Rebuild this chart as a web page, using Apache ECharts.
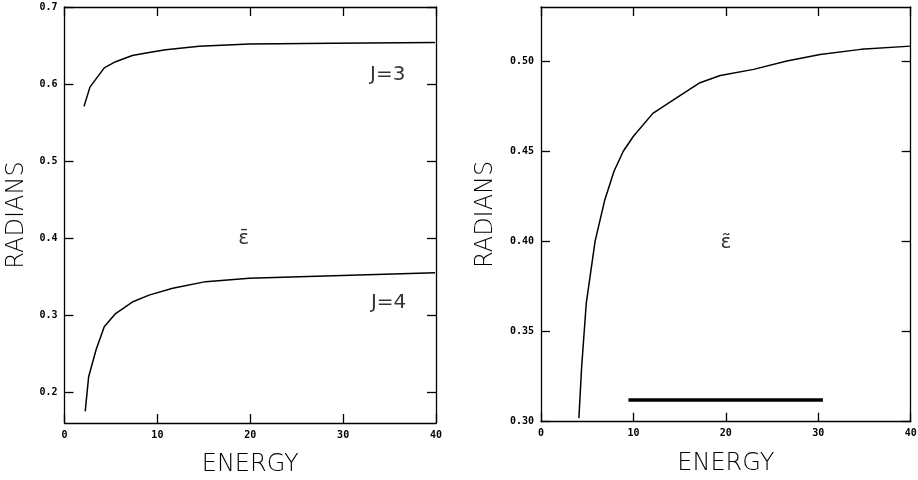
<!DOCTYPE html>
<html>
<head>
<meta charset="utf-8">
<script src="https://cdn.jsdelivr.net/npm/echarts@6/dist/echarts.min.js"></script>
<style>html,body{margin:0;padding:0;background:#fff}#c{width:918px;height:480px}</style>
</head>
<body>
<div id="c"></div>
<script>
// ---- data ----
const energyJ3 = [2.1, 2.74, 4.28, 5.5, 7.3, 9.1, 10.9, 14.5, 19.9, 28.9, 39.9];
const radJ3    = [0.571, 0.596, 0.621, 0.629, 0.637, 0.641, 0.6445, 0.649, 0.652, 0.653, 0.654];
const energyJ4 = [2.23, 2.6, 3.4, 4.28, 5.5, 7.3, 9.1, 11.65, 15.2, 19.9, 25.3, 39.9];
const radJ4    = [0.175, 0.22, 0.255, 0.285, 0.302, 0.317, 0.326, 0.335, 0.3435, 0.348, 0.350, 0.355];
const energyR  = [4.1, 4.4, 4.9, 5.85, 6.9, 7.9, 8.9, 10.0, 12.1, 14.7, 17.2, 19.4, 23.0, 26.6, 30.2, 34.6, 40.0];
const radR     = [0.302, 0.3306, 0.3658, 0.400, 0.423, 0.4389, 0.450, 0.4583, 0.471, 0.4797, 0.488, 0.492, 0.4954, 0.500, 0.5037, 0.5065, 0.5083];
const barEnergy = [9.46, 30.5];
const barRad    = [0.312, 0.312];
const leftYTicks  = [0.2, 0.3, 0.4, 0.5, 0.6, 0.7];
const rightYTicks = [0.30, 0.35, 0.40, 0.45, 0.50];
const xTicks = [0, 10, 20, 30, 40];
const labelTextsLeft = ['J=3', 'J=4', 'ε̄'];
const labelXLeft     = [34.8, 34.9, 19.3];
const labelYLeft     = [0.612, 0.3165, 0.399];
const labelTextsRight = ['ε̃'];
const labelXRight     = [20.0];
const labelYRight     = [0.399];

const zip = (a, b) => a.map((v, i) => [v, b[i]]);

const tickLbl = {fontFamily: 'DejaVu Sans Mono', fontWeight: 'bold', fontSize: 10, color: '#000'};
const nameStyle = {fontFamily: 'DejaVu Sans', fontWeight: 200, fontSize: 24, color: '#000'};
const line = {lineStyle: {color: '#000', width: 1.3}};

function xAx(grid, bottom) {
  return {
    type: 'value', gridIndex: grid, position: bottom ? 'bottom' : 'top',
    min: 0, max: 40, interval: 10,
    axisLine: {show: true, onZero: false, ...line},
    axisTick: {show: true, inside: true, length: 9, customValues: xTicks, ...line},
    axisLabel: bottom ? {show: true, margin: 7, customValues: xTicks, ...tickLbl} : {show: false},
    splitLine: {show: false},
    name: bottom ? 'ENERGY' : '', nameLocation: 'middle', nameGap: 30, nameTextStyle: nameStyle
  };
}
function yAx(grid, left, min, max, ticks, dec) {
  return {
    type: 'value', gridIndex: grid, position: left ? 'left' : 'right',
    min: min, max: max,
    axisLine: {show: true, onZero: false, ...line},
    axisTick: {show: true, inside: true, length: 9, customValues: ticks, ...line},
    axisLabel: left ? {show: true, margin: 7, customValues: ticks, formatter: v => v.toFixed(dec), ...tickLbl} : {show: false},
    splitLine: {show: false},
    name: left ? 'RADIANS' : '', nameLocation: 'middle', nameGap: left ? (grid === 0 ? 36 : 43) : 0, nameTextStyle: nameStyle
  };
}
function labelSeries(xi, yi, xs, ys, texts) {
  return {
    type: 'scatter', xAxisIndex: xi, yAxisIndex: yi, silent: true,
    symbolSize: 1, itemStyle: {color: 'rgba(0,0,0,0)'},
    data: xs.map((x, i) => ({value: [x, ys[i]],
      label: {show: true, position: 'inside', formatter: texts[i], fontFamily: 'DejaVu Sans', fontWeight: 'normal',
        fontSize: 20, color: '#000'}}))
  };
}

const chart = echarts.init(document.getElementById('c'), null, {renderer: 'canvas'});
chart.setOption({
  animation: false,
  backgroundColor: '#fff',
  grid: [
    {left: 64.5, right: 482, top: 7, bottom: 57, containLabel: false, outerBoundsMode: 'none'},
    {left: 541, right: 7.3, top: 7, bottom: 58.3, containLabel: false, outerBoundsMode: 'none'}
  ],
  xAxis: [xAx(0, true), xAx(0, false), xAx(1, true), xAx(1, false)],
  yAxis: [
    yAx(0, true, 0.16, 0.7, leftYTicks, 1), yAx(0, false, 0.16, 0.7, leftYTicks, 1),
    yAx(1, true, 0.30, 0.53, rightYTicks, 2), yAx(1, false, 0.30, 0.53, rightYTicks, 2)
  ],
  series: [
    {type: 'line', xAxisIndex: 0, yAxisIndex: 0, data: zip(energyJ3, radJ3), symbol: 'none', lineStyle: {color: '#000', width: 1.5}},
    {type: 'line', xAxisIndex: 0, yAxisIndex: 0, data: zip(energyJ4, radJ4), symbol: 'none', lineStyle: {color: '#000', width: 1.5}},
    {type: 'line', xAxisIndex: 2, yAxisIndex: 2, data: zip(energyR, radR), symbol: 'none', lineStyle: {color: '#000', width: 1.5}},
    {type: 'line', xAxisIndex: 2, yAxisIndex: 2, data: zip(barEnergy, barRad), symbol: 'none', lineStyle: {color: '#000', width: 3.5}},
    labelSeries(0, 0, labelXLeft, labelYLeft, labelTextsLeft),
    labelSeries(2, 2, labelXRight, labelYRight, labelTextsRight)
  ]
});
</script>
</body>
</html>
